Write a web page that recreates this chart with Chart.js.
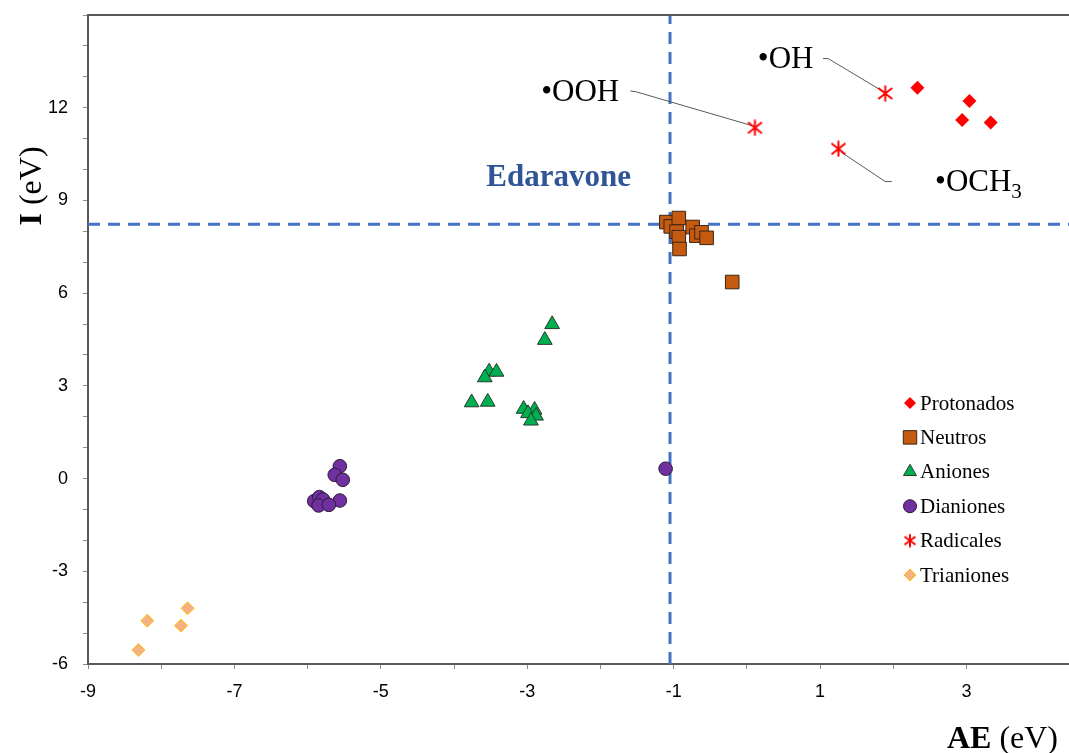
<!DOCTYPE html>
<html>
<head>
<meta charset="utf-8">
<script src="https://cdn.jsdelivr.net/npm/chart.js@4.4.1/dist/chart.umd.min.js"></script>
<style>
  html, body { margin: 0; padding: 0; background: #fff; }
  #wrap { width: 1069px; height: 753px; position: relative; }
</style>
</head>
<body>
<div id="wrap"><canvas id="chart"></canvas></div>
<script>
// Datos (AE en eV, I en eV)
const protonadosAE = [2.33, 3.04, 2.94, 3.33];
const protonadosI  = [12.65, 12.22, 11.60, 11.52];

const neutrosAE = [-1.10, -1.04, -0.93, -0.96, -0.93, -0.92, -0.74, -0.69, -0.62, -0.55, -0.20];
const neutrosI  = [8.30, 8.16, 8.43, 7.99, 7.81, 7.43, 8.14, 7.86, 7.97, 7.79, 6.36];

const anionesAE = [-2.66, -2.76, -3.52, -3.42, -3.58, -3.76, -3.54, -3.05, -2.90, -2.99, -2.88, -2.95];
const anionesI  = [4.99, 4.48, 3.46, 3.45, 3.27, 2.46, 2.48, 2.25, 2.22, 2.11, 2.03, 1.87];

const dianionesAE = [-5.56, -5.63, -5.52, -5.56, -5.91, -5.84, -5.79, -5.85, -5.71, -1.11];
const dianionesI  = [0.40, 0.12, -0.04, -0.71, -0.73, -0.60, -0.68, -0.87, -0.85, 0.32];

const radicalesAE = [1.89, 0.11, 1.25];
const radicalesI  = [12.46, 11.35, 10.67];

const trianionesAE = [-7.64, -8.19, -7.73, -8.31];
const trianionesI  = [-4.20, -4.60, -4.76, -5.55];

// Referencia Edaravone (líneas discontinuas)
const edaravoneAE = -1.05;
const edaravoneI = 8.23;

// Límites de ejes
const xMin = -9, xMax = 4.4;
const yMin = -6, yMax = 15;

// Líneas guía de las etiquetas de radicales
const ohLineAE = [1.04, 1.11, 1.85];
const ohLineI  = [13.59, 13.59, 12.54];
const oohLineAE = [-1.59, -1.52, 0.07];
const oohLineI  = [12.54, 12.52, 11.42];
const och3LineAE = [1.29, 1.89, 1.98];
const och3LineI  = [10.56, 9.61, 9.61];

// Etiquetas de texto: [texto, subíndice, AE, I]
const radicalLabels = [
    ["\u2022OH", "", 0.15, 13.55],
    ["\u2022OOH", "", -2.81, 12.49],
    ["\u2022OCH", "3", 2.57, 9.56]
];
const edaravoneLabel = ["Edaravone", -3.56, 9.74];

const pts = (xs, ys) => xs.map((x, i) => ({ x: x, y: ys[i] }));

function makeAsterisk(size, color) {
    const c = document.createElement('canvas');
    c.width = size; c.height = size;
    const g = c.getContext('2d');
    g.strokeStyle = color;
    g.lineWidth = 2;
    const h = size / 2;
    g.beginPath();
    g.moveTo(h, 0.5); g.lineTo(h, size - 0.5);
    g.moveTo(1.5, 3); g.lineTo(size - 1.5, size - 3);
    g.moveTo(1.5, size - 3); g.lineTo(size - 1.5, 3);
    g.stroke();
    return c;
}
const asterisk = makeAsterisk(17, '#FF0000');
const asteriskSmall = makeAsterisk(14, '#FF0000');

const SERIF = '"Liberation Serif", "Times New Roman", serif';

const series = [
    { label: 'Protonados', data: pts(protonadosAE, protonadosI), pointStyle: 'rectRot', pointRadius: 7, backgroundColor: '#FF0000', borderColor: '#FF0000', borderWidth: 0, legendRadius: 6 },
    { label: 'Neutros', data: pts(neutrosAE, neutrosI), pointStyle: 'rect', pointRadius: 9.6, backgroundColor: '#C55A11', borderColor: '#3b2514', borderWidth: 1, legendRadius: 9.5 },
    { label: 'Aniones', data: pts(anionesAE, anionesI), pointStyle: 'triangle', pointRadius: 8.5, backgroundColor: '#00B050', borderColor: '#263a2c', borderWidth: 1, legendRadius: 7.5 },
    { label: 'Dianiones', data: pts(dianionesAE, dianionesI), pointStyle: 'circle', pointRadius: 6.8, backgroundColor: '#7030A0', borderColor: '#2c1a38', borderWidth: 1, legendRadius: 6.5 },
    { label: 'Radicales', data: pts(radicalesAE, radicalesI), pointStyle: asterisk, pointRadius: 8, backgroundColor: '#FF0000', borderColor: '#FF0000', borderWidth: 0, legendStyle: asteriskSmall },
    { label: 'Trianiones', data: pts(trianionesAE, trianionesI), pointStyle: 'rectRot', pointRadius: 6.5, backgroundColor: '#F4B183', borderColor: '#FFC000', borderWidth: 1, legendRadius: 6 }
];

const datasets = series.map(s => ({
    label: s.label,
    data: s.data,
    pointStyle: s.pointStyle,
    pointRadius: s.pointRadius,
    pointHoverRadius: s.pointRadius,
    backgroundColor: s.backgroundColor,
    borderColor: s.borderColor,
    borderWidth: s.borderWidth,
    showLine: false,
    order: 1
}));

// Líneas discontinuas de Edaravone
const dashStyle = { type: 'line', showLine: true, pointRadius: 0, borderColor: '#4472C4', borderWidth: 3, borderDash: [12, 8], fill: false, order: 5 };
datasets.push(Object.assign({ label: '_v', data: [{ x: edaravoneAE, y: yMin }, { x: edaravoneAE, y: yMax }] }, dashStyle));
datasets.push(Object.assign({ label: '_h', data: [{ x: xMin, y: edaravoneI }, { x: xMax, y: edaravoneI }] }, dashStyle));

// Líneas guía de etiquetas
const leaderStyle = { type: 'line', showLine: true, pointRadius: 0, borderColor: '#5a5a5a', borderWidth: 1, fill: false, tension: 0, order: 4 };
datasets.push(Object.assign({ label: '_oh', data: pts(ohLineAE, ohLineI) }, leaderStyle));
datasets.push(Object.assign({ label: '_ooh', data: pts(oohLineAE, oohLineI) }, leaderStyle));
datasets.push(Object.assign({ label: '_och3', data: pts(och3LineAE, och3LineI) }, leaderStyle));

function drawShape(ctx, style, r, x, y) {
    if (style === 'rectRot') {
        ctx.moveTo(x, y - r); ctx.lineTo(x + r, y); ctx.lineTo(x, y + r); ctx.lineTo(x - r, y); ctx.closePath();
    } else if (style === 'rect') {
        const h = r * Math.SQRT1_2;
        ctx.rect(x - h, y - h, 2 * h, 2 * h);
    } else if (style === 'triangle') {
        ctx.moveTo(x, y - r);
        ctx.lineTo(x + r * Math.sin(2 * Math.PI / 3), y - r * Math.cos(2 * Math.PI / 3));
        ctx.lineTo(x + r * Math.sin(4 * Math.PI / 3), y - r * Math.cos(4 * Math.PI / 3));
        ctx.closePath();
    } else {
        ctx.arc(x, y, r, 0, Math.PI * 2);
    }
}

// Marco superior, etiquetas de texto, títulos de ejes y leyenda
const decorPlugin = {
    id: 'decor',
    afterDatasetsDraw(chart) {
        const ctx = chart.ctx;
        const xs = chart.scales.x, ys = chart.scales.y;
        const area = chart.chartArea;
        ctx.save();

        // borde superior
        ctx.strokeStyle = '#595959';
        ctx.lineWidth = 2;
        ctx.beginPath();
        ctx.moveTo(area.left - 1, area.top);
        ctx.lineTo(area.right, area.top);
        ctx.stroke();

        // etiquetas de radicales
        ctx.fillStyle = '#000';
        ctx.textBaseline = 'middle';
        ctx.textAlign = 'left';
        radicalLabels.forEach(([txt, sub, ax, iy]) => {
            const px = xs.getPixelForValue(ax), py = ys.getPixelForValue(iy);
            ctx.font = '31px ' + SERIF;
            ctx.fillText(txt, px, py);
            if (sub) {
                const w = ctx.measureText(txt).width;
                ctx.font = '21px ' + SERIF;
                ctx.fillText(sub, px + w, py + 9);
            }
        });

        // Edaravone
        ctx.font = 'bold 31px ' + SERIF;
        ctx.fillStyle = '#2F5597';
        ctx.fillText(edaravoneLabel[0], xs.getPixelForValue(edaravoneLabel[1]), ys.getPixelForValue(edaravoneLabel[2]));

        // título eje X: AE (eV)
        ctx.fillStyle = '#000';
        ctx.textBaseline = 'alphabetic';
        ctx.font = 'bold 32px ' + SERIF;
        const wAE = ctx.measureText('AE').width;
        ctx.font = '32px ' + SERIF;
        const wEV = ctx.measureText(' (eV)').width;
        const tx = 1058 - wAE - wEV;
        ctx.font = 'bold 32px ' + SERIF;
        ctx.fillText('AE', tx, 748);
        ctx.font = '32px ' + SERIF;
        ctx.fillText(' (eV)', tx + wAE, 748);

        // título eje Y: I (eV)
        ctx.save();
        ctx.translate(41, 186);
        ctx.rotate(-Math.PI / 2);
        ctx.font = 'bold 32px ' + SERIF;
        const wI = ctx.measureText('I').width;
        ctx.font = '32px ' + SERIF;
        const wEV2 = ctx.measureText(' (eV)').width;
        const start = -(wI + wEV2) / 2;
        ctx.font = 'bold 32px ' + SERIF;
        ctx.fillText('I', start, 0);
        ctx.font = '32px ' + SERIF;
        ctx.fillText(' (eV)', start + wI, 0);
        ctx.restore();

        // leyenda
        const lx = 910, ly0 = 403, step = 34.4;
        series.forEach((s, i) => {
            const cy = ly0 + i * step;
            if (s.legendStyle) {
                ctx.drawImage(s.legendStyle, lx - s.legendStyle.width / 2, cy - s.legendStyle.height / 2);
            } else {
                ctx.fillStyle = s.backgroundColor;
                ctx.strokeStyle = s.borderColor;
                ctx.lineWidth = s.borderWidth;
                ctx.beginPath();
                drawShape(ctx, s.pointStyle, s.legendRadius, lx, cy);
                ctx.fill();
                if (s.borderWidth) ctx.stroke();
            }
            ctx.fillStyle = '#000';
            ctx.font = '21px ' + SERIF;
            ctx.textBaseline = 'middle';
            ctx.textAlign = 'left';
            ctx.fillText(s.label, 920, cy + 1);
        });

        ctx.restore();
    }
};

const tickFont = { family: '"Liberation Sans Narrow", "Arial Narrow", "Liberation Sans", sans-serif', size: 18 };

new Chart(document.getElementById('chart'), {
    type: 'scatter',
    data: { datasets: datasets },
    plugins: [decorPlugin],
    options: {
        responsive: true,
        maintainAspectRatio: false,
        animation: false,
        layout: { autoPadding: false, padding: { top: 15, right: 0, left: 0, bottom: 0 } },
        plugins: { legend: { display: false }, tooltip: { enabled: false } },
        scales: {
            x: {
                type: 'linear',
                min: xMin, max: xMax,
                afterBuildTicks: (scale) => { scale.ticks = scale.ticks.filter(t => Number.isInteger(t.value)); },
                afterFit: (scale) => { scale.height = 89; scale.paddingLeft = 0; scale.paddingRight = 0; },
                ticks: {
                    stepSize: 1,
                    autoSkip: false,
                    maxRotation: 0,
                    padding: 12,
                    color: '#000',
                    font: tickFont,
                    callback: (v) => (Math.abs(v % 2) === 1 ? v : '')
                },
                grid: { display: true, drawOnChartArea: false, drawTicks: true, tickLength: 5, color: '#8c8c8c' },
                border: { display: true, color: '#595959', width: 2 }
            },
            y: {
                type: 'linear',
                min: yMin, max: yMax,
                afterBuildTicks: (scale) => { scale.ticks = scale.ticks.filter(t => Number.isInteger(t.value)); },
                afterFit: (scale) => { scale.width = 88; scale.paddingTop = 0; scale.paddingBottom = 0; },
                ticks: {
                    stepSize: 1,
                    autoSkip: false,
                    padding: 15,
                    color: '#000',
                    font: tickFont,
                    callback: (v) => (v % 3 === 0 && v !== yMax ? v : '')
                },
                grid: { display: true, drawOnChartArea: false, drawTicks: true, tickLength: 5, color: '#8c8c8c' },
                border: { display: true, color: '#595959', width: 2 }
            }
        }
    }
});
</script>
</body>
</html>
